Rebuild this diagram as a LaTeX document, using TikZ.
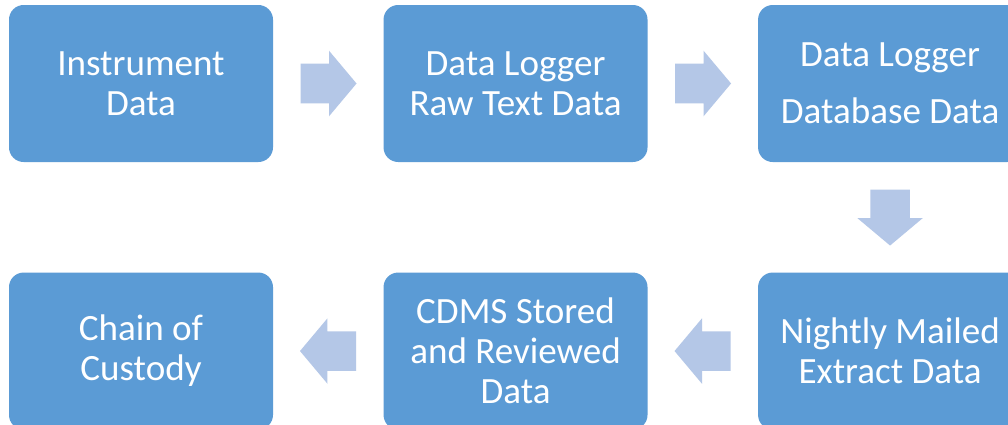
\documentclass[tikz,border=0pt]{standalone}
\usepackage{fontspec}
\setmainfont{Carlito}
\usetikzlibrary{positioning, shapes.arrows, calc}
\definecolor{boxblue}{HTML}{5B9BD5}
\definecolor{flowblue}{HTML}{B4C7E7}

\tikzset{
  stepbox/.style={fill=boxblue, rounded corners=11pt, minimum width=198pt, minimum height=117.75pt,
    align=center, text=white, font=\fontsize{27.8}{30}\selectfont, inner sep=0pt},
  flowarrow/.style={single arrow, fill=flowblue, draw=none, inner xsep=0pt, inner ysep=14.625pt,
    minimum height=42pt, single arrow head extend=9.75pt, single arrow tip angle=100, anchor=tail}
}

\begin{document}
\begin{tikzpicture}[x=0.75pt, y=-0.75pt, node distance=82.5pt]
    % Page frame
    \clip (0,0) rectangle (1008,425);
    \fill[white] (0,0) rectangle (1008,425);

    % Top row
    \node[stepbox] (instr) at (141,83.5) {Instrument\\Data};
    \node[stepbox, right=of instr] (rawtxt) {Data Logger\\Raw Text Data};
    \node[stepbox, right=of rawtxt] (dbase) {Data Logger\\[12.75pt]Database Data};

    % Bottom row
    \node[stepbox, below=of dbase] (mailed) {Nightly Mailed\\Extract Data};
    \node[stepbox, left=of mailed] (cdms) {CDMS Stored\\and Reviewed\\Data};
    \node[stepbox, left=of cdms] (custody) {Chain of\\Custody};

    % Flow arrows (placed by their tails)
    \node[flowarrow] at ($(instr.east)!0.5!(rawtxt.west)+(-28,0)$) {};
    \node[flowarrow] at ($(rawtxt.east)!0.5!(dbase.west)+(-28,0)$) {};
    \node[flowarrow, rotate=-90] at ($(dbase.south)!0.5!(mailed.north)+(0,-28)$) {};
    \node[flowarrow, rotate=180] at ($(mailed.west)!0.5!(cdms.east)+(28,0)$) {};
    \node[flowarrow, rotate=180] at ($(cdms.west)!0.5!(custody.east)+(28,0)$) {};
\end{tikzpicture}
\end{document}
